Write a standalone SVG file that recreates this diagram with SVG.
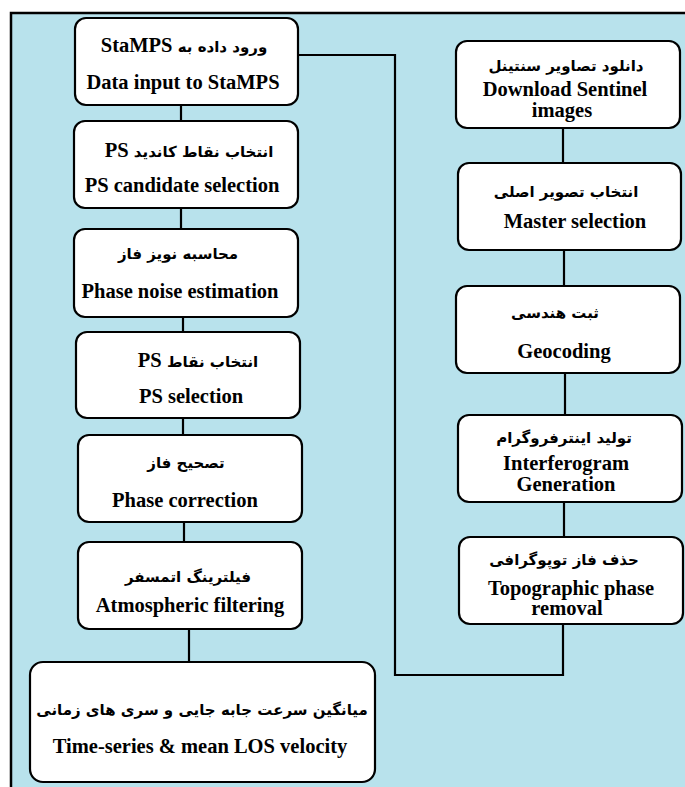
<svg xmlns="http://www.w3.org/2000/svg" width="685" height="787" viewBox="0 0 685 787">
<style>
.box{fill:#fff;stroke:#000;stroke-width:2.2}
.ln{fill:none;stroke:#000;stroke-width:2.2}
.fa{font-family:"DejaVu Sans",sans-serif;font-weight:bold;font-size:15px;fill:#000}
.en{font-family:"Liberation Serif",serif;font-weight:bold;font-size:20.5px;fill:#000}
</style>
<rect x="0" y="0" width="685" height="787" fill="#fff"/>
<rect x="11" y="13" width="690" height="790" fill="#b8e2ec" stroke="#000" stroke-width="2.5"/>
<g id="connectors">
<line class="ln" x1="181" y1="105" x2="181" y2="121"/>
<line class="ln" x1="181" y1="208" x2="181" y2="229"/>
<line class="ln" x1="183" y1="317" x2="183" y2="332"/>
<line class="ln" x1="183" y1="418" x2="183" y2="435"/>
<line class="ln" x1="184" y1="522" x2="184" y2="542"/>
<line class="ln" x1="189" y1="629" x2="189" y2="662"/>
<line class="ln" x1="563" y1="128" x2="563" y2="163"/>
<line class="ln" x1="564" y1="250" x2="564" y2="286"/>
<line class="ln" x1="565" y1="373" x2="565" y2="415"/>
<line class="ln" x1="564" y1="502" x2="564" y2="537"/>
<polyline class="ln" points="298,55 395,55 395,675 563,675 563,624"/>
</g>
<g id="n1"><rect class="box" x="75" y="18" width="223" height="87" rx="11"/>
<text class="fa" x="184" y="52" text-anchor="middle" direction="rtl"><tspan letter-spacing="2.5">ورود داده به</tspan>  <tspan class="en">StaMPS</tspan></text>
<text class="en" x="183" y="89" text-anchor="middle">Data input to StaMPS</text></g>
<g id="n2"><rect class="box" x="74" y="121" width="224" height="87" rx="11"/>
<text class="fa" x="189" y="157" text-anchor="middle" direction="rtl">انتخاب نقاط کاندید <tspan class="en">PS</tspan></text>
<text class="en" x="182" y="192" text-anchor="middle">PS candidate selection</text></g>
<g id="n3"><rect class="box" x="74" y="229" width="224" height="88" rx="11"/>
<text class="fa" x="178" y="259" text-anchor="middle" direction="rtl">محاسبه نویز فاز</text>
<text class="en" x="180" y="298" text-anchor="middle">Phase noise estimation</text></g>
<g id="n4"><rect class="box" x="76" y="332" width="224" height="86" rx="11"/>
<text class="fa" x="198" y="367" text-anchor="middle" direction="rtl">انتخاب نقاط  <tspan class="en">PS</tspan></text>
<text class="en" x="191" y="403" text-anchor="middle">PS selection</text></g>
<g id="n5"><rect class="box" x="78" y="435" width="224" height="87" rx="11"/>
<text class="fa" x="186" y="468" text-anchor="middle" direction="rtl">تصحیح فاز</text>
<text class="en" x="185" y="507" text-anchor="middle">Phase correction</text></g>
<g id="n6"><rect class="box" x="78" y="542" width="224" height="87" rx="11"/>
<text class="fa" x="188" y="582" text-anchor="middle" direction="rtl">فیلترینگ اتمسفر</text>
<text class="en" x="190" y="612" text-anchor="middle">Atmospheric filtering</text></g>
<g id="n7"><rect class="box" x="30" y="662" width="345" height="120" rx="13"/>
<text class="fa" x="202" y="715" text-anchor="middle" direction="rtl">میانگین سرعت جابه جایی و سری های زمانی</text>
<text class="en" x="200" y="753" text-anchor="middle">Time-series &amp; mean LOS velocity</text></g>
<g id="r1"><rect class="box" x="456" y="41" width="224" height="87" rx="11"/>
<text class="fa" x="566" y="71" text-anchor="middle" direction="rtl">دانلود تصاویر سنتینل</text>
<text class="en" x="565" y="96" text-anchor="middle">Download Sentinel</text>
<text class="en" x="562" y="117" text-anchor="middle">images</text></g>
<g id="r2"><rect class="box" x="458" y="163" width="223" height="87" rx="11"/>
<text class="fa" x="566" y="197" text-anchor="middle" direction="rtl">انتخاب تصویر اصلی</text>
<text class="en" x="575" y="228" text-anchor="middle">Master selection</text></g>
<g id="r3"><rect class="box" x="456" y="286" width="224" height="87" rx="11"/>
<text class="fa" x="555" y="318" text-anchor="middle" direction="rtl" letter-spacing="1.5">ثبت هندسی</text>
<text class="en" x="564" y="358" text-anchor="middle">Geocoding</text></g>
<g id="r4"><rect class="box" x="458" y="415" width="224" height="87" rx="11"/>
<text class="fa" x="564" y="443" text-anchor="middle" direction="rtl">تولید اینترفروگرام</text>
<text class="en" x="566" y="470" text-anchor="middle">Interferogram</text>
<text class="en" x="566" y="491" text-anchor="middle">Generation</text></g>
<g id="r5"><rect class="box" x="459" y="537" width="224" height="87" rx="11"/>
<text class="fa" x="564" y="565" text-anchor="middle" direction="rtl">حذف فاز توپوگرافی</text>
<text class="en" x="571" y="595" text-anchor="middle">Topographic phase</text>
<text class="en" x="567" y="615" text-anchor="middle">removal</text></g>
</svg>
